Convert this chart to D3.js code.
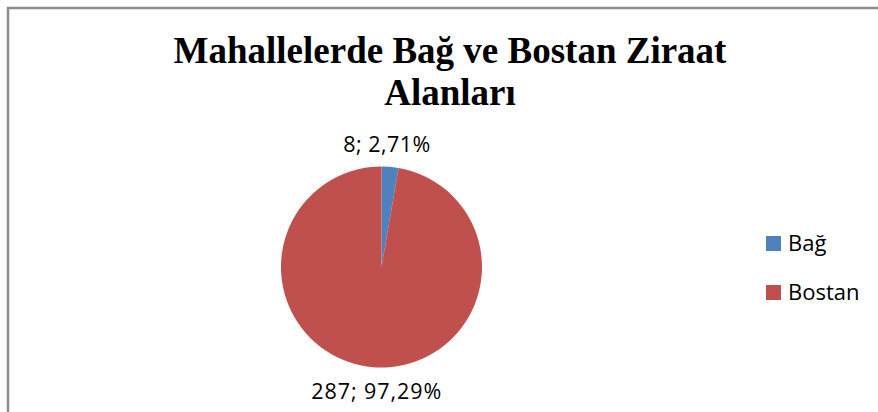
<!DOCTYPE html>
<html>
<head>
<meta charset="utf-8">
<script src="https://cdn.jsdelivr.net/npm/d3@7/dist/d3.min.js"></script>
<style>
  html, body { margin: 0; padding: 0; background: #fff; }
  svg { display: block; }
</style>
</head>
<body>
<svg id="chart" width="878" height="412"></svg>
<script>
const titleLines = ["Mahallelerde Bağ ve Bostan Ziraat", "Alanları"];
const categories = ["Bağ", "Bostan"];
const values = [8, 287];
const percentLabels = ["2,71%", "97,29%"];
const colors = ["#4F81BD", "#C0504D"];

const W = 878, H = 412;
const svg = d3.select("#chart");

// outer frame (cropped at right and bottom)
svg.append("rect")
  .attr("x", 8).attr("y", 8)
  .attr("width", W + 20).attr("height", H + 20)
  .attr("fill", "#fff")
  .attr("stroke", "#8c8c8c")
  .attr("stroke-width", 2.5);

// title
const title = svg.append("text")
  .attr("text-anchor", "middle")
  .attr("font-family", "'Liberation Serif', 'Times New Roman', serif")
  .attr("font-weight", "bold")
  .attr("font-size", 37)
  .attr("fill", "#000");
title.selectAll("tspan").data(titleLines).join("tspan")
  .attr("x", 450)
  .attr("y", (d, i) => 63 + i * 42)
  .text(d => d);

// pie
const cx = 381.5, cy = 267, r = 100.5;
const pie = d3.pie().sort(null).value(d => d);
const arcs = pie(values);
const arc = d3.arc().innerRadius(0).outerRadius(r);
const g = svg.append("g").attr("transform", `translate(${cx},${cy})`);
g.selectAll("path").data(arcs).join("path")
  .attr("d", arc)
  .attr("fill", (d, i) => colors[i]);

// data labels (outside end)
const labelR = r + 23;
g.selectAll("text.lbl").data(arcs).join("text")
  .attr("class", "lbl")
  .attr("x", d => {
    const a = (d.startAngle + d.endAngle) / 2;
    return labelR * Math.sin(a) * 0.5;
  })
  .attr("y", d => {
    const a = (d.startAngle + d.endAngle) / 2;
    return -labelR * Math.cos(a);
  })
  .attr("text-anchor", "middle")
  .attr("dominant-baseline", "central")
  .attr("font-family", "'Open Sans', 'Noto Sans', sans-serif")
  .attr("font-size", 21.5)
  .attr("textLength", (d, i) => i === 0 ? 87 : 130)
  .attr("lengthAdjust", "spacing")
  .attr("fill", "#000")
  .text((d, i) => `${values[i]}; ${percentLabels[i]}`);

// legend
const legend = svg.append("g");
const items = legend.selectAll("g").data(categories).join("g")
  .attr("transform", (d, i) => `translate(766, ${236 + i * 49})`);
items.append("rect")
  .attr("width", 15).attr("height", 15)
  .attr("fill", (d, i) => colors[i]);
items.append("text")
  .attr("x", 22).attr("y", 15)
  .attr("font-family", "'Open Sans', 'Noto Sans', sans-serif")
  .attr("font-size", 22)
  .attr("fill", "#000")
  .text(d => d);
</script>
</body>
</html>
